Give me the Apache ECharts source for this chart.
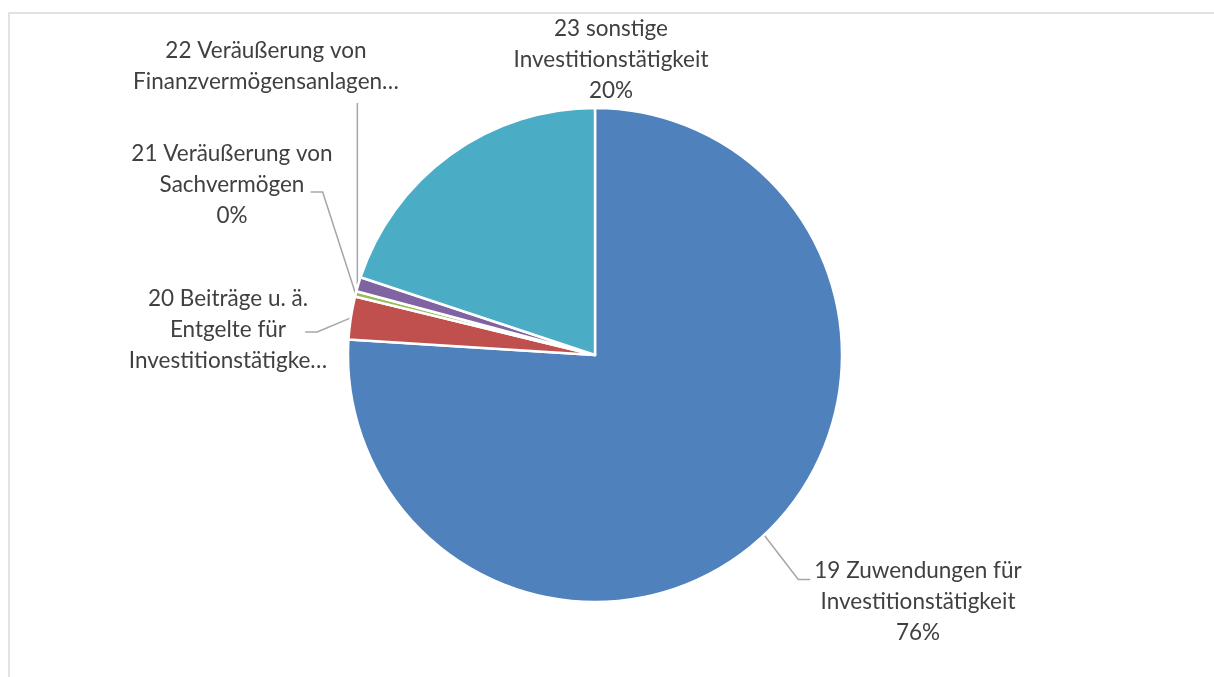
<!DOCTYPE html>
<html>
<head>
<meta charset="utf-8">
<script src="https://cdn.jsdelivr.net/npm/echarts@6/dist/echarts.min.js"></script>
<style>
html,body{margin:0;padding:0;background:#fff;}
#chart{width:1214px;height:677px;}
</style>
</head>
<body>
<div id="chart"></div>
<script>
var categories = [
  "19 Zuwendungen für\nInvestitionstätigkeit",
  "20 Beiträge u. ä.\nEntgelte für\nInvestitionstätigke…",
  "21 Veräußerung von\nSachvermögen",
  "22 Veräußerung von\nFinanzvermögensanlagen…",
  "23 sonstige\nInvestitionstätigkeit"
];
var values = [76.0, 2.8, 0.35, 0.95, 19.9];
var showPercent = [true, false, true, false, true];
var colors = ["#4F81BD", "#C0504D", "#9BBB59", "#8064A2", "#4BACC6"];
// label anchor positions (centre of label block)
var labelPos = [[918, 602], [228, 330], [232, 185], [266, 66], [611, 60]];
var showLine = [true, true, true, true, false];

var total = values.reduce(function(a,b){return a+b;},0);
var data = values.map(function(v,i){
  return {
    name: categories[i],
    value: v,
    itemStyle: {color: colors[i]},
    labelLine: {show: showLine[i]}
  };
});

var chart = echarts.init(document.getElementById('chart'));
chart.setOption({
  animation: false,
  graphic: [{
    type: 'rect',
    shape: {x: 9, y: 13, width: 1210, height: 700},
    style: {fill: 'none', stroke: '#d9d9d9', lineWidth: 1.5},
    silent: true
  }],
  series: [{
    type: 'pie',
    center: [595, 355],
    radius: [0, 247],
    startAngle: 90,
    clockwise: true,
    avoidLabelOverlap: false,
    data: data,
    itemStyle: {borderColor: '#fff', borderWidth: 2.5},
    label: {
      show: true,
      position: 'outside',
      fontFamily: 'Lato',
      fontSize: 22.5,
      lineHeight: 31,
      color: '#404040',
      align: 'center',
      formatter: function(p){
        var t = p.name;
        if (showPercent[p.dataIndex]) t += '\n' + Math.round(p.value/total*100) + '%';
        return t;
      }
    },
    labelLine: {
      show: true,
      length: 10,
      length2: 10,
      lineStyle: {color: '#a6a6a6', width: 1.5}
    },
    labelLayout: function(p){
      var i = p.dataIndex;
      var pos = labelPos[i];
      var res = {x: pos[0], y: pos[1], align: 'center', verticalAlign: 'middle'};
      if (p.labelLinePoints && p.labelLinePoints.length) {
        var a = p.labelLinePoints[0];
        var w = p.labelRect.width, h = p.labelRect.height;
        var left = pos[0] - w / 2, right = pos[0] + w / 2;
        var top = pos[1] - h / 2, bottom = pos[1] + h / 2;
        if (i === 0) {
          var y0 = top + 24;
          res.labelLinePoints = [a, [left - 16, y0], [left - 4, y0]];
        } else if (i === 1) {
          var y1 = pos[1] + 2;
          res.labelLinePoints = [a, [right - 10, y1], [right - 22, y1]];
        } else if (i === 2) {
          var y2 = pos[1] + 7;
          res.labelLinePoints = [a, [right - 10, y2], [right - 22, y2]];
        } else if (i === 3) {
          var b = bottom + 6;
          res.labelLinePoints = [[a[0] - 1, a[1]], [a[0] - 1, b], [a[0] - 1, b]];
        }
      }
      return res;
    }
  }]
});
</script>
</body>
</html>
